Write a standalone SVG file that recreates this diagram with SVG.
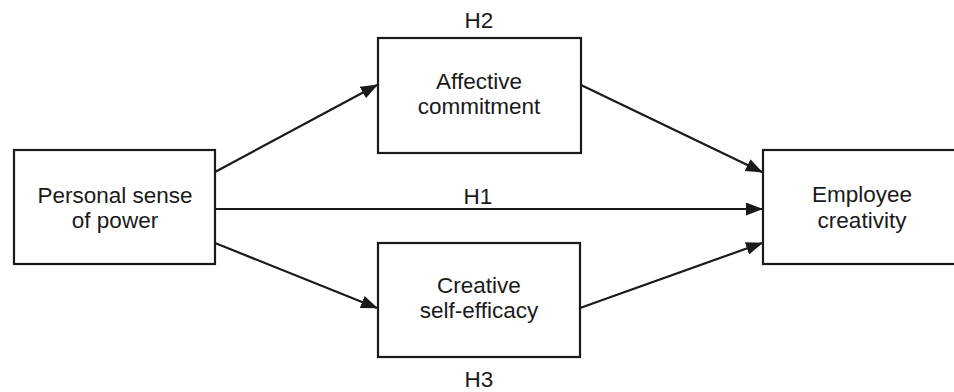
<svg xmlns="http://www.w3.org/2000/svg" width="954" height="392" viewBox="0 0 954 392">
<style>
.box{fill:#fff;stroke:#1a1a1a;stroke-width:2.2}
.lbl{font-family:"Liberation Sans",Arial,sans-serif;font-size:22.5px;fill:#1a1a1a;text-anchor:middle}
.conn{stroke:#1a1a1a;stroke-width:2.2;fill:none;marker-end:url(#ah)}
</style>
<defs>
<marker id="ah" markerWidth="17" markerHeight="13" refX="16" refY="6.5" orient="auto" markerUnits="userSpaceOnUse">
<path d="M0,0 L17,6.5 L0,13 Z" fill="#1a1a1a"/>
</marker>
</defs>
<rect width="954" height="392" fill="#fff"/>
<g id="connectors">
<line class="conn" x1="215" y1="172" x2="377" y2="85"/>
<line class="conn" x1="215" y1="209" x2="762" y2="209"/>
<line class="conn" x1="215" y1="243" x2="377" y2="308"/>
<line class="conn" x1="581" y1="85" x2="762" y2="172"/>
<line class="conn" x1="580" y1="308" x2="762" y2="243"/>
<text class="lbl" x="478" y="204">H1</text>
</g>
<g id="power">
<rect class="box" x="14" y="150" width="201" height="114"/>
<text class="lbl" x="115" y="203">Personal sense</text>
<text class="lbl" x="115" y="228">of power</text>
</g>
<g id="affective">
<rect class="box" x="378" y="38" width="203" height="115"/>
<text class="lbl" x="479" y="28">H2</text>
<text class="lbl" x="479" y="89">Affective</text>
<text class="lbl" x="479" y="114">commitment</text>
</g>
<g id="efficacy">
<rect class="box" x="378" y="243" width="202" height="114"/>
<text class="lbl" x="479" y="293">Creative</text>
<text class="lbl" x="479" y="318">self-efficacy</text>
<text class="lbl" x="479" y="387">H3</text>
</g>
<g id="creativity">
<rect class="box" x="763" y="150" width="198" height="114"/>
<text class="lbl" x="862" y="202">Employee</text>
<text class="lbl" x="862" y="228">creativity</text>
</g>
</svg>
